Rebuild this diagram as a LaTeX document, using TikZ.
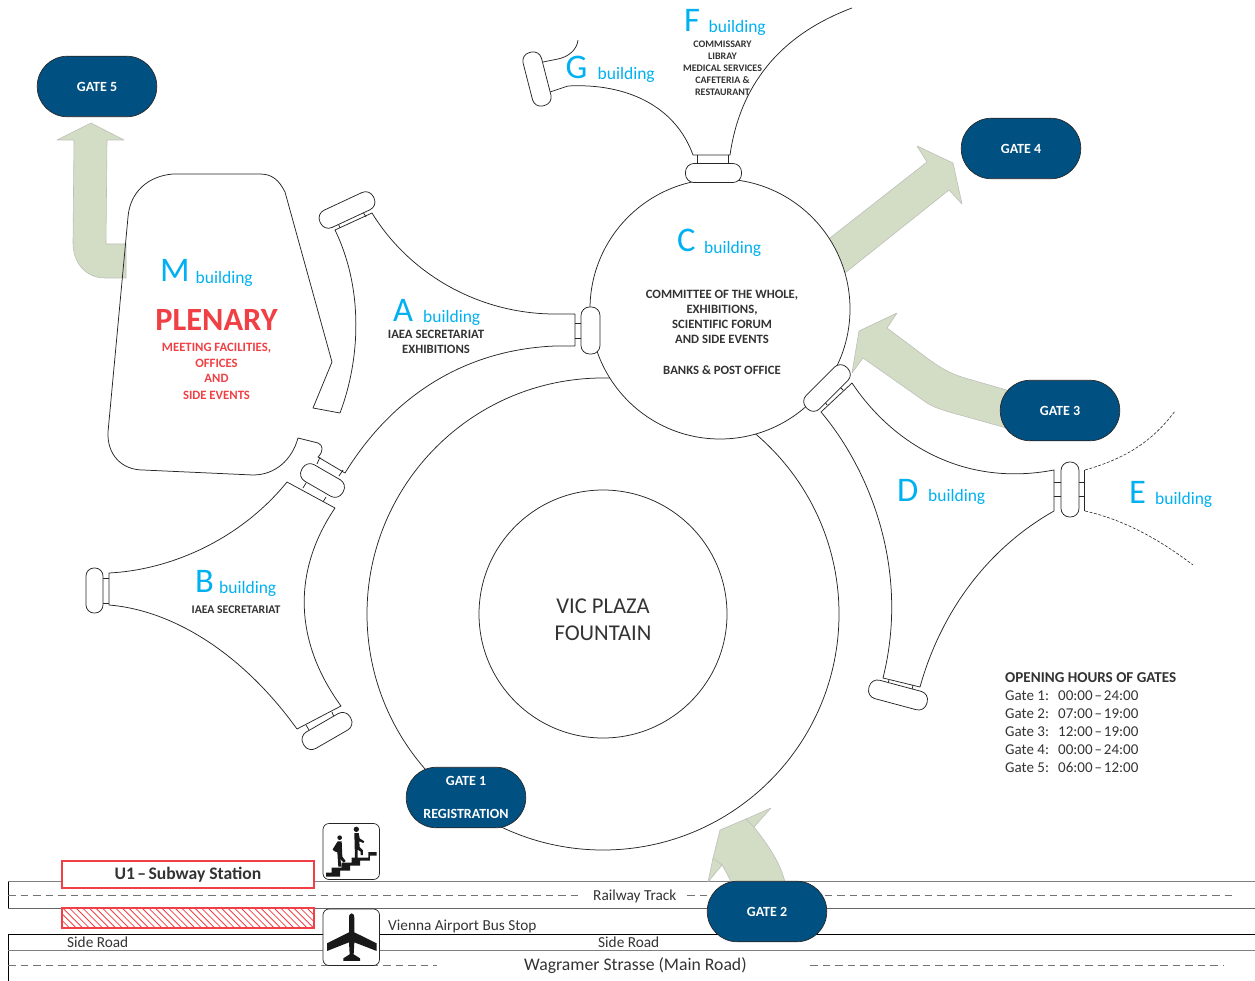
\documentclass[tikz,border=0pt]{standalone}
\usepackage{fontspec}
\setmainfont{Carlito}
\definecolor{gateblue}{HTML}{005082}
\definecolor{skyb}{HTML}{00B0F0}
\definecolor{plred}{HTML}{F04045}
\definecolor{arrowg}{HTML}{D3DDC6}
\definecolor{arrowe}{HTML}{BDBFB8}
\definecolor{txt}{HTML}{333333}
\newcommand{\fs}[1]{\fontsize{#1}{#1}\selectfont}
\newcommand{\gatetime}[2]{\makebox[53pt][l]{#1}#2}
\newcommand{\nd}{\kern-.6pt–\kern-.6pt}
\tikzset{
 wall/.style={draw=black!85,line width=.75pt,line join=round},
 flow/.style={fill=arrowg,draw=arrowe,line width=.6pt,line join=round},
 crease/.style={draw=arrowe,line width=.6pt},
 capsule/.style={draw=black!85,line width=.75pt,fill=white,rounded corners=8.5pt,inner sep=0pt,minimum height=#1},
 capsule/.default=19pt,
 gate/.style={draw=black!85,line width=.7pt,fill=gateblue,rounded corners=30pt,minimum width=119.5pt,minimum height=60.5pt,inner sep=0pt},
 gatetxt/.style={text=white,font=\bfseries\fs{14},inner sep=0pt},
 lbl/.style={inner sep=0pt,anchor=base west,text=skyb,font=\fs{34.5}},
 bld/.style={inner sep=0pt,anchor=base west,text=skyb,font=\fs{17.5}},
 info/.style={inner sep=0pt,anchor=base,text=txt,font=\bfseries\fs{#1}},
 info/.default=12.7,
 redinfo/.style={inner sep=0pt,anchor=base,text=plred,font=\bfseries\fs{12.7}},
 legend/.style={inner sep=0pt,anchor=base west,text=txt,font=\fs{15}},
 road/.style={inner sep=0pt,anchor=base west,text=txt,font=\fs{15.3}},
 dashline/.style={draw=black!55,line width=.8pt,dash pattern=on 7.5pt off 5pt},
 iconbox/.style={draw=black!85,line width=.7pt,fill=white,rounded corners=6pt},
}
\begin{document}
\begin{tikzpicture}[x=1pt,y=-1pt]
\useasboundingbox (0,0) rectangle (1255,981);
% roads
\draw[draw=black!50,line width=1.3pt] (8,881.5) -- (1255,881.5);
\draw[draw=black!60,line width=.9pt] (8,908) -- (1255,908);
\draw[draw=black,line width=.9pt] (8,881.5) -- (8,908);
\draw[draw=black,line width=.9pt] (1255,934.5) -- (8,934.5) -- (8,981);
\draw[draw=black!50,line width=1.3pt] (8,950.5) -- (1255,950.5);
\draw[dashline] (8,895) -- (580,895);
\draw[dashline] (687,895) -- (1233,895);
\draw[dashline] (8,965) -- (437,965);
\draw[dashline] (810,965) -- (1223,965);
% flow arrows
\draw[flow] (91,123) -- (124,140) -- (107,140) -- (106,244) -- (126,244) -- (126,278) -- (105,278)
  .. controls (85,278) and (73,262) .. (73,243) -- (74,140) -- (57,140) -- cycle;
\draw[flow] (830,238) -- (927,162) -- (917,146) -- (953,163) -- (962,204) -- (949,190) -- (865,257) -- (845,273) -- (815,290) -- (800,250) -- cycle;
\draw[flow] (897,313) -- (887,328) -- (927,358) .. controls (938,366) and (948,373) .. (965,378) -- (1010,391) -- (1010,429) -- (960,415)
  .. controls (945,411) and (935,408) .. (927,403) -- (863,358) -- (852,373) -- (859,331) -- cycle;
\draw[flow] (771,808) -- (754,827) .. controls (768,845) and (780,862) .. (785,882) -- (731,882)
  .. controls (728,875) and (725,870) .. (722,865) -- (708,882) -- (713,858) -- (720,830) -- (746,819) -- cycle;
\draw[crease] (746,819) -- (754,827);
\draw[crease] (713,858) -- (722,865);
% plaza
\draw[wall] (603,614) circle[radius=236];
\draw[wall] (603,614) circle[radius=124];
\draw[wall,fill=white] (720,309) circle[radius=130];
% M building
\draw[wall] (340,413) -- (313,408) -- (332,362) -- (285,192) .. controls (279,180) and (272,174) .. (260,174)
  -- (173,174) .. controls (148,176) and (130,192) .. (128,217) -- (108,432)
  .. controls (107,455) and (122,470) .. (143,470) -- (253,475)
  .. controls (275,475) and (292,460) .. (298,438) -- (318,443)
  .. controls (323,445) and (324,451) .. (318,457) -- (345,473);
% A building
\draw[wall] (340,413) .. controls (360,360) and (364,290) .. (335,230) -- (372,213)
  .. controls (410,275) and (480,314) .. (555,314) -- (575,314) -- (575,346) -- (555,346)
  .. controls (460,350) and (390,400) .. (345,473);
% B building
\draw[wall] (287,482) .. controls (240,540) and (170,570) .. (109,573) -- (109,605)
  .. controls (170,610) and (240,650) .. (297,729) -- (341,706)
  .. controls (293,640) and (293,570) .. (335,508) -- cycle;
% D building
\draw[wall] (852,383) -- (821,412) .. controls (870,470) and (910,570) .. (883,678) -- (920,687)
  .. controls (940,615) and (985,550) .. (1054,511) -- (1054,470)
  .. controls (960,488) and (890,440) .. (852,383);
% F, G
\draw[wall] (550,92) -- (568,86) .. controls (625,83) and (675,105) .. (693,155) -- (730,155)
  .. controls (740,85) and (780,35) .. (852,8);
\draw[wall] (543,62) -- (558,59) .. controls (568,57) and (577,50) .. (578,40);
% E dashed
\draw[wall,line width=.6pt,dash pattern=on 3pt off 1.6pt] (1085,470) .. controls (1120,460) and (1150,445) .. (1175,411);
\draw[wall,line width=.6pt,dash pattern=on 3pt off 1.6pt] (1085,511) .. controls (1125,520) and (1160,540) .. (1193,565);
\draw[wall] (1084,470) -- (1084,511);
% capsule links
\draw[wall] (575,323.5) -- (581,323.5) (575,338) -- (581,338);
\draw[wall] (697,155) -- (697,164) (728,155) -- (728,164);
\draw[wall] (338,223) -- (340,228) (363,212) -- (366,217);
\draw[wall] (320,457) -- (317,464) (343,470) -- (339,476);
\draw[wall] (306,483) -- (303,488) (326,497) -- (323,502);
\draw[wall] (103,578) -- (109,578) (103,603) -- (109,603);
\draw[wall] (306,725) -- (309,730) (332,712) -- (334,717);
\draw[wall] (889,680) -- (888,683) (913,685) -- (912,690);
\draw[wall] (840,387) -- (843,390) (825,402) -- (827,405);
\draw[wall] (1054,482) -- (1061,482) (1054,496) -- (1061,496);
\draw[wall] (1079,482) -- (1084,482) (1079,496) -- (1084,496);
% capsules
\node[capsule,minimum width=47pt,rotate=90] (capAC) at (590.5,330.5) {};
\node[capsule,minimum width=56pt] (capCF) at (713.5,173) {};
\node[capsule,minimum width=59pt,rotate=25] (capA) at (347,210) {};
\node[capsule,minimum width=47pt,rotate=-30] (capAB) at (322.5,480.5) {};
\node[capsule=17pt,minimum width=45pt,rotate=90,rounded corners=8pt] (capBl) at (94.5,590.5) {};
\node[capsule,minimum width=54pt,rotate=30] (capBb) at (327,731) {};
\node[capsule,minimum width=55pt,rotate=-75.6] (capG) at (537,79) {};
\node[capsule,minimum width=60pt,rotate=-15] (capDb) at (898,695) {};
\node[capsule,minimum width=57pt,rotate=45] (capCD) at (827,388) {};
\node[capsule=18pt,minimum width=55pt,rotate=90] (capDE) at (1070,489.5) {};
% subway
\node[draw=plred,line width=1.4pt,fill=white,minimum width=252pt,minimum height=27pt,inner sep=0pt,font=\bfseries\fs{17.6},text=txt] (subway) at (188,874.5) {U1\,\nd\,Subway Station};
\begin{scope}
\clip (62,908) rectangle (314,928);
\foreach \i in {0,...,42} {\draw[plred,line width=.8pt] ({40+6.6*\i},905) -- ({40+6.6*\i+26},931);}
\end{scope}
\node[draw=plred,line width=1.4pt,minimum width=252pt,minimum height=20pt,inner sep=0pt] (hatchbox) at (188,918) {};
% icons
\draw[iconbox] (323,823.5) rectangle (379.5,879.5);
\draw[iconbox] (323,909) rectangle (379.5,965.5);
\begin{scope}[shift={(315,815)},x=.3333pt,y=-.3333pt]
\fill[black!90] (33,173) -- (50,173) -- (50,158) -- (80,158) -- (80,143) -- (110,143) -- (110,128) -- (140,128) -- (160,128) -- (160,111) -- (185,111)
 -- (185,122) -- (165,122) -- (165,137) -- (135,137) -- (135,152) -- (105,152) -- (105,167) -- (75,167) -- (75,185) -- (33,185) -- cycle;
\fill[black!90] (74,68) circle[radius=7];
\fill[black!90] (124,43) circle[radius=8];
\fill[black!90] (68,79) -- (80,79) -- (82,125) -- (92,138) -- (86,143) -- (76,132) -- (80,155) -- (70,155) -- (67,112) -- (57,108) -- (53,103) -- cycle;
\fill[black!90] (118,54) -- (131,54) -- (134,70) -- (148,79) -- (145,84) -- (133,79) -- (134,96) -- (144,106) -- (144,120) -- (137,120) -- (137,110) -- (128,104) -- (128,130) -- (120,130) -- cycle;
\fill[black!90] (110,295) .. controls (115,295) and (118,300) .. (118,310) -- (118,352) -- (185,385) -- (185,408) -- (118,382) -- (116,418) -- (135,430) -- (135,438) -- (85,438) -- (85,430) -- (104,418) -- (102,382) -- (36,408) -- (36,385) -- (102,352) -- (102,310) .. controls (102,300) and (105,295) .. (110,295) -- cycle;
\end{scope}
% gates
\node[gate] (g5) at (97,86.5) {};
\node[gate] (g4) at (1021,148.5) {};
\node[gate] (g3) at (1060,410.5) {};
\node[gate] (g2) at (767,911.5) {};
\node[gate] (g1) at (466,797.5) {};
\node[gatetxt] (g5t) at (97,87) {GATE 5};
\node[gatetxt] (g4t) at (1021,149) {GATE 4};
\node[gatetxt] (g3t) at (1060,411) {GATE 3};
\node[gatetxt] (g2t) at (767,912) {GATE 2};
\node[gatetxt] (g1t) at (466,781) {GATE 1};
\node[gatetxt] (g1r) at (466,814) {REGISTRATION};
% building labels
\node[lbl] (lF) at (684,32) {F}; \node[bld] (bF) at (708.5,33) {building};
\node[lbl] (lG) at (565.5,79) {G}; \node[bld] (bG) at (597.5,80) {building};
\node[lbl] (lC) at (677,252) {C}; \node[bld] (bC) at (704,253.5) {building};
\node[lbl] (lM) at (160,282) {M}; \node[bld] (bM) at (195.5,283.5) {building};
\node[lbl] (lA) at (393,322) {A}; \node[bld] (bA) at (423,323) {building};
\node[lbl] (lB) at (195,592) {B}; \node[bld] (bB) at (219,593) {building};
\node[lbl] (lD) at (897,501) {D}; \node[bld] (bD) at (928,501) {building};
\node[lbl] (lE) at (1129,503) {E}; \node[bld] (bE) at (1155,504) {building};
% F text
\node[info=10] (f1) at (722.5,48) {COMMISSARY};
\node[info=10] (f2) at (722.5,60) {LIBRAY};
\node[info=10] (f3) at (722.5,72) {MEDICAL SERVICES};
\node[info=10] (f4) at (722.5,84) {CAFETERIA \&};
\node[info=10] (f5) at (722.5,96) {RESTAURANT};
% C text
\node[info] (c1) at (722,299) {COMMITTEE OF THE WHOLE,};
\node[info] (c2) at (722,314) {EXHIBITIONS,};
\node[info] (c3) at (722,329) {SCIENTIFIC FORUM};
\node[info] (c4) at (722,344) {AND SIDE EVENTS};
\node[info] (c5) at (722,374) {BANKS \& POST OFFICE};
% A, B text
\node[info] (a1) at (436,339) {IAEA SECRETARIAT};
\node[info] (a2) at (436,354) {EXHIBITIONS};
\node[info=11.7] (b1) at (236,613) {IAEA SECRETARIAT};
% M text
\node[inner sep=0pt,anchor=base,text=plred,font=\bfseries\fs{32.4}] (pl) at (216.5,331) {PLENARY};
\node[redinfo] (m1) at (216.5,352) {MEETING FACILITIES,};
\node[redinfo] (m2) at (216.5,367) {OFFICES};
\node[redinfo] (m3) at (216.5,382) {AND};
\node[redinfo] (m4) at (216.5,399) {SIDE EVENTS};
% plaza text
\node[inner sep=0pt,anchor=base,text=txt,font=\fs{22.6}] (v1) at (603,613) {VIC PLAZA};
\node[inner sep=0pt,anchor=base,text=txt,font=\fs{22.6}] (v2) at (603,640) {FOUNTAIN};
% legend
\node[legend,font=\bfseries\fs{15.1}] (o0) at (1005,682) {OPENING HOURS OF GATES};
\node[legend] (o1) at (1005,700) {\gatetime{Gate 1:}{00:00\,\nd\,24:00}};
\node[legend] (o2) at (1005,718) {\gatetime{Gate 2:}{07:00\,\nd\,19:00}};
\node[legend] (o3) at (1005,736) {\gatetime{Gate 3:}{12:00\,\nd\,19:00}};
\node[legend] (o4) at (1005,754) {\gatetime{Gate 4:}{00:00\,\nd\,24:00}};
\node[legend] (o5) at (1005,772) {\gatetime{Gate 5:}{06:00\,\nd\,12:00}};
% road text
\node[road] (r1) at (593,900) {Railway Track};
\node[road] (r2) at (388,930) {Vienna Airport Bus Stop};
\node[road] (r3) at (67,947) {Side Road};
\node[road] (r4) at (598,947) {Side Road};
\node[road,font=\fs{17.7}] (r5) at (524,970) {Wagramer Strasse (Main Road)};
\end{tikzpicture}
\end{document}
